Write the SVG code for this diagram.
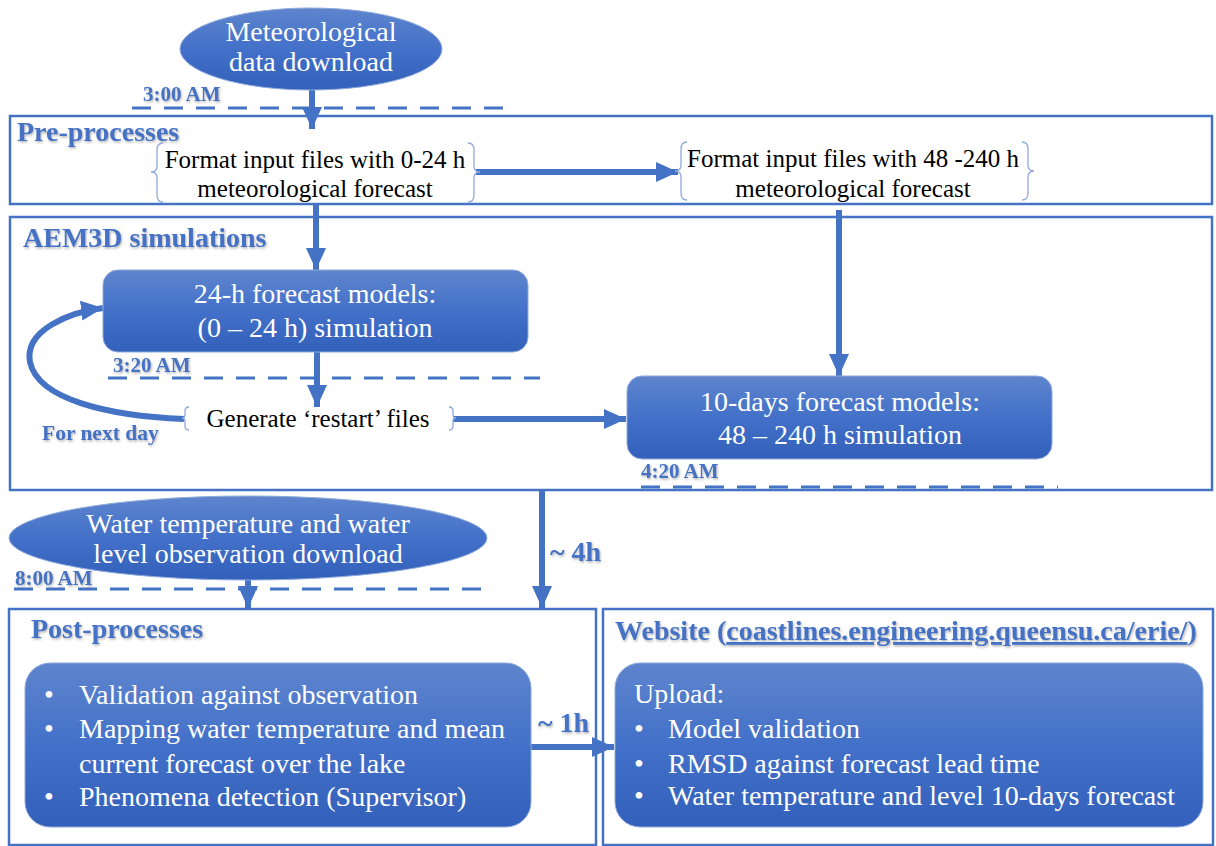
<svg xmlns="http://www.w3.org/2000/svg" width="1216" height="846" viewBox="0 0 1216 846">
<defs>
<linearGradient id="g" x1="0" y1="0" x2="0" y2="1">
<stop offset="0" stop-color="#5E84CD"/>
<stop offset="0.5" stop-color="#4371C9"/>
<stop offset="1" stop-color="#3260BA"/>
</linearGradient>
<filter id="sh" x="-5%" y="-20%" width="110%" height="140%">
<feDropShadow dx="1" dy="1.5" stdDeviation="0.8" flood-color="#555" flood-opacity="0.45"/>
</filter>
<marker id="ah" markerUnits="userSpaceOnUse" markerWidth="24" markerHeight="24" viewBox="0 0 24 24" refX="22" refY="12" orient="auto">
<path d="M0,2 L22,12 L0,22 Z" fill="#4472C4"/>
</marker>
<style>
.frame{fill:none;stroke:#4472C4;stroke-width:2.5}
.node{fill:url(#g);stroke:#8FAADC;stroke-width:1}
.wt{font-family:"Liberation Serif","Times New Roman",serif;fill:#fff;font-size:28px}
.bt{font-family:"Liberation Serif","Times New Roman",serif;fill:#000;font-size:25px}
.lbl{font-family:"Liberation Serif","Times New Roman",serif;fill:#4472C4;font-weight:bold;filter:url(#sh)}
.dash{stroke:#4472C4;stroke-width:3;stroke-dasharray:19 13;fill:none}
.arr{stroke:#4472C4;stroke-width:6;fill:none;marker-end:url(#ah)}
.brace{fill:none;stroke:#8FAADC;stroke-width:1.3}
</style>
</defs>
<rect width="1216" height="846" fill="#fff"/>

<g id="frames">
<rect class="frame" x="10" y="116" width="1202" height="88"/>
<rect class="frame" x="10" y="217" width="1202" height="273"/>
<rect class="frame" x="9" y="609" width="587" height="236"/>
<rect class="frame" x="603" y="609" width="610" height="236"/>
<text class="lbl" x="17" y="141" font-size="28">Pre-processes</text>
<text class="lbl" x="23" y="247" font-size="28">AEM3D simulations</text>
<text class="lbl" x="31" y="638" font-size="28">Post-processes</text>
<text class="lbl" x="615" y="640" font-size="28">Website (<tspan text-decoration="underline">coastlines.engineering.queensu.ca/erie/</tspan>)</text>
</g>

<g id="timelines">
<line class="dash" x1="132" y1="108" x2="513" y2="108"/>
<text class="lbl" x="143" y="101" font-size="21">3:00 AM</text>
<line class="dash" x1="108" y1="378" x2="540" y2="378"/>
<text class="lbl" x="113" y="372" font-size="21">3:20 AM</text>
<line class="dash" x1="641" y1="487" x2="1058" y2="487"/>
<text class="lbl" x="641" y="478" font-size="21">4:20 AM</text>
<line class="dash" x1="14" y1="589" x2="487" y2="589"/>
<text class="lbl" x="15" y="585" font-size="21">8:00 AM</text>
</g>

<g id="connectors">
<line class="arr" x1="312" y1="90" x2="312" y2="129"/>
<line class="arr" x1="476" y1="172" x2="678" y2="172"/>
<line class="arr" x1="316" y1="204" x2="316" y2="270"/>
<line class="arr" x1="839" y1="210" x2="839" y2="376"/>
<line class="arr" x1="317" y1="352" x2="317" y2="407"/>
<line class="arr" x1="453" y1="419" x2="626" y2="419"/>
<path class="arr" d="M184,419 C110,416 38,400 30,362 C24,330 70,312 103,308"/>
<line class="arr" x1="542" y1="490" x2="542" y2="608"/>
<line class="arr" x1="248" y1="580" x2="248" y2="608"/>
<line class="arr" x1="531" y1="747" x2="614" y2="747"/>
<text class="lbl" x="550" y="561" font-size="28">~ 4h</text>
<text class="lbl" x="538" y="732" font-size="28">~ 1h</text>
<text class="lbl" x="42" y="440" font-size="21.5">For next day</text>
</g>

<g id="met-download">
<ellipse class="node" cx="311" cy="49" rx="131" ry="41"/>
<text class="wt" x="311" y="41" font-size="25" text-anchor="middle">Meteorological</text>
<text class="wt" x="311" y="71" font-size="25" text-anchor="middle">data download</text>
</g>

<g id="format-0-24">
<path class="brace" d="M163,143 Q157,143 157,150 L157,166 Q157,172 151,172 Q157,172 157,178 L157,195 Q157,202 163,202"/>
<path class="brace" d="M468,143 Q474,143 474,150 L474,166 Q474,172 480,172 Q474,172 474,178 L474,195 Q474,202 468,202"/>
<text class="bt" x="315" y="168" text-anchor="middle">Format input files with 0-24 h</text>
<text class="bt" x="315" y="197" text-anchor="middle">meteorological forecast</text>
</g>

<g id="format-48-240">
<path class="brace" d="M687,142 Q681,142 681,149 L681,165 Q681,171 675,171 Q681,171 681,177 L681,193 Q681,200 687,200"/>
<path class="brace" d="M1022,142 Q1028,142 1028,149 L1028,165 Q1028,171 1034,171 Q1028,171 1028,177 L1028,193 Q1028,200 1022,200"/>
<text class="bt" x="853" y="167" text-anchor="middle">Format input files with 48 -240 h</text>
<text class="bt" x="853" y="197" text-anchor="middle">meteorological forecast</text>
</g>

<g id="model-24h">
<rect class="node" x="103" y="270" width="425" height="82" rx="15"/>
<text class="wt" x="315" y="303" text-anchor="middle">24-h forecast models:</text>
<text class="wt" x="315" y="337" text-anchor="middle">(0 – 24 h) simulation</text>
</g>

<g id="restart">
<path class="brace" d="M189,407 Q185,407 185,411 L185,415 Q185,418 182,418 Q185,418 185,421 L185,426 Q185,430 189,430"/>
<path class="brace" d="M449,407 Q453,407 453,411 L453,415 Q453,418 456,418 Q453,418 453,421 L453,426 Q453,430 449,430"/>
<text class="bt" x="318" y="427" text-anchor="middle">Generate ‘restart’ files</text>
</g>

<g id="model-10d">
<rect class="node" x="627" y="376" width="425" height="83" rx="15"/>
<text class="wt" x="840" y="411" text-anchor="middle">10-days forecast models:</text>
<text class="wt" x="840" y="444" text-anchor="middle">48 – 240 h simulation</text>
</g>

<g id="obs-download">
<ellipse class="node" cx="248" cy="538" rx="239" ry="42"/>
<text class="wt" x="248" y="533" font-size="25" text-anchor="middle">Water temperature and water</text>
<text class="wt" x="248" y="563" font-size="25" text-anchor="middle">level observation download</text>
</g>

<g id="post-box">
<rect class="node" x="25" y="663" width="506" height="164" rx="25"/>
<g class="wt">
<text x="44" y="704">•</text><text x="79" y="704">Validation against observation</text>
<text x="44" y="738">•</text><text x="79" y="738">Mapping water temperature and mean</text>
<text x="79" y="773">current forecast over the lake</text>
<text x="44" y="806">•</text><text x="79" y="806">Phenomena detection (Supervisor)</text>
</g>
</g>

<g id="web-box">
<rect class="node" x="615" y="663" width="588" height="164" rx="25"/>
<g class="wt">
<text x="634" y="703">Upload:</text>
<text x="634" y="738">•</text><text x="668" y="738">Model validation</text>
<text x="634" y="773">•</text><text x="668" y="773">RMSD against forecast lead time</text>
<text x="634" y="805">•</text><text x="668" y="805">Water temperature and level 10-days forecast</text>
</g>
</g>
</svg>
